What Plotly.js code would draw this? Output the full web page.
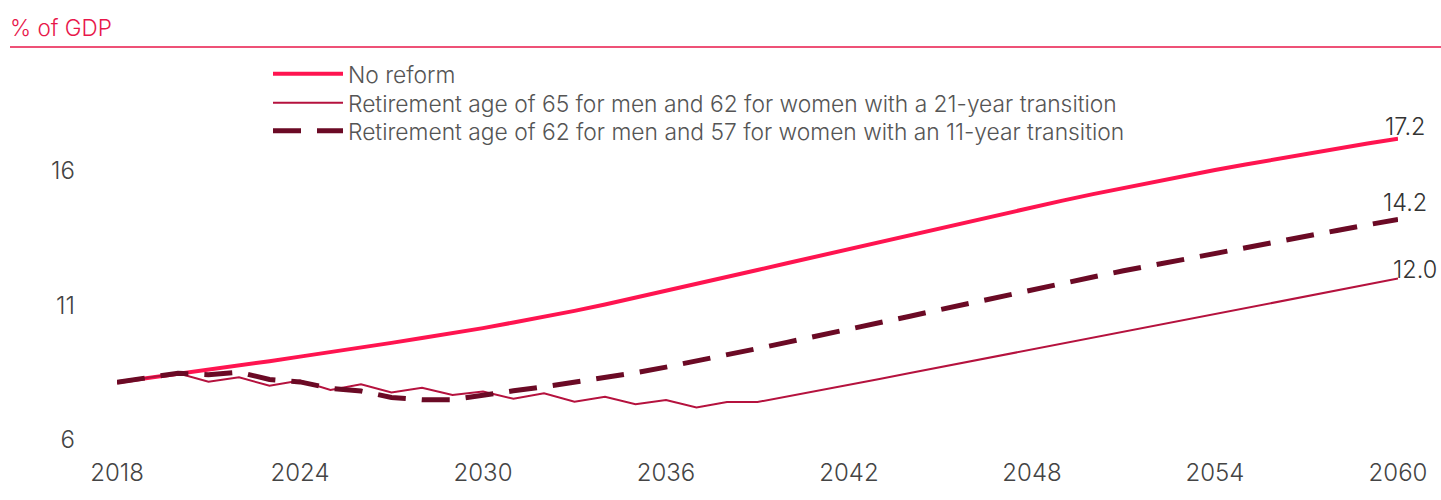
<!DOCTYPE html>
<html>
<head>
<meta charset="utf-8">
<script src="https://cdn.plot.ly/plotly-3.0.1.min.js"></script>
<style>
html,body{margin:0;padding:0;background:#fff;}
#chart{width:1441px;height:500px;}
</style>
</head>
<body>
<div id="chart"></div>
<script>
var years = [2018,2019,2020,2021,2022,2023,2024,2025,2026,2027,2028,2029,2030,2031,2032,2033,2034,2035,2036,2037,2038,2039,2040,2041,2042,2043,2044,2045,2046,2047,2048,2049,2050,2051,2052,2053,2054,2055,2056,2057,2058,2059,2060];

var noReform = [8.15,8.30,8.46,8.61,8.77,8.93,9.10,9.26,9.43,9.61,9.79,9.97,10.16,10.37,10.58,10.80,11.04,11.29,11.54,11.80,12.06,12.32,12.58,12.84,13.10,13.36,13.62,13.88,14.14,14.40,14.66,14.90,15.14,15.37,15.60,15.82,16.04,16.24,16.44,16.64,16.83,17.02,17.20];

var reform65 = [8.15,8.32,8.48,8.17,8.33,8.02,8.21,7.86,8.07,7.77,7.94,7.67,7.80,7.53,7.74,7.42,7.61,7.33,7.49,7.21,7.41,7.41,7.62,7.83,8.05,8.27,8.49,8.71,8.93,9.15,9.37,9.59,9.81,10.03,10.25,10.47,10.69,10.91,11.13,11.35,11.57,11.79,12.00];

var reform62 = [8.15,8.32,8.48,8.43,8.52,8.25,8.16,7.92,7.82,7.58,7.50,7.50,7.68,7.83,7.98,8.14,8.31,8.50,8.71,8.93,9.16,9.40,9.64,9.87,10.10,10.35,10.60,10.85,11.10,11.35,11.60,11.83,12.06,12.29,12.51,12.73,12.95,13.16,13.37,13.58,13.79,14.00,14.20];

var seriesNames = [
  "No reform",
  "Retirement age of 65 for men and 62 for women with a 21-year transition",
  "Retirement age of 62 for men and 57 for women with an 11-year transition"
];
var endLabels = ["17.2","12.0","14.2"];
var xTicks = [2018,2024,2030,2036,2042,2048,2054,2060];
var yTicks = [6,11,16];

var FONT = "Inter, 'Open Sans', sans-serif";
var cNo = "#ff1450", c65 = "#b5123e", c62 = "#6b0a25";

var traces = [
  {x: years, y: noReform, name: seriesNames[0], type: "scatter", mode: "lines",
   legend: "legend", line: {color: cNo, width: 4}},
  {x: years, y: reform65, name: seriesNames[1], type: "scatter", mode: "lines",
   legend: "legend2", line: {color: c65, width: 2}},
  {x: years, y: reform62, name: seriesNames[2], type: "scatter", mode: "lines",
   legend: "legend3", line: {color: c62, width: 5, dash: "28px,16px"}}
];

var last = years.length - 1;
var annotations = [
  {x: years[last], y: noReform[last], text: endLabels[0], xshift: 7, yshift: 12},
  {x: years[last], y: reform65[last], text: endLabels[1], xshift: 17, yshift: 9},
  {x: years[last], y: reform62[last], text: endLabels[2], xshift: 7, yshift: 17}
].map(function(a){
  return Object.assign({xref:"x", yref:"y", showarrow:false, xanchor:"center", yanchor:"middle",
    font:{family:FONT, size:23.5, weight:300, color:"#333"}}, a);
});

function legendAt(rowY){
  return {x: (268-117)/1281, xanchor: "left", y: (440-rowY)/380, yanchor: "middle",
          bgcolor: "rgba(0,0,0,0)", itemwidth: 70, tracegroupgap: 0,
          font: {family: FONT, size: 22.8, weight: 300, color: "#555"}};
}

var layout = {
  width: 1441, height: 500,
  margin: {l: 117, r: 43, t: 60, b: 60},
  paper_bgcolor: "#fff", plot_bgcolor: "#fff",
  title: {text: "% of GDP", x: 10/1441, xanchor: "left", xref: "container",
          y: 1 - 28/500, yanchor: "middle", yref: "container",
          font: {family: FONT, size: 22.5, weight: 300, color: "#e8174a"}},
  xaxis: {range: [2018, 2060], tickvals: xTicks, ticktext: xTicks.map(String),
          showgrid: false, zeroline: false, showline: false, ticks: "",
          ticklabelstandoff: 16,
          tickfont: {family: FONT, size: 24, weight: 300, color: "#444"}},
  yaxis: {range: [6, 6 + 380/26.9], tickvals: yTicks, ticktext: yTicks.map(String),
          showgrid: false, zeroline: false, showline: false, ticks: "",
          ticklabelstandoff: 41,
          tickfont: {family: FONT, size: 24, weight: 300, color: "#444"}},
  showlegend: true,
  legend: legendAt(74),
  legend2: legendAt(103),
  legend3: legendAt(131),
  annotations: annotations,
  shapes: [
    {type: "line", xref: "paper", yref: "paper", x0: (10-117)/1281, x1: (1441-117)/1281,
     y0: (440-47)/380, y1: (440-47)/380, line: {color: "#e8174a", width: 1.5}}
  ]
};

Plotly.newPlot("chart", traces, layout, {displayModeBar: false, staticPlot: true});
</script>
</body>
</html>
